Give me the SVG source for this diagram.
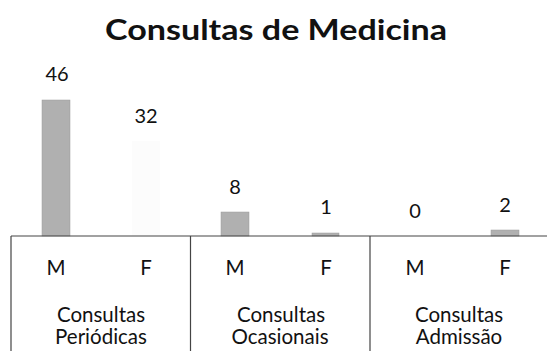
<svg xmlns="http://www.w3.org/2000/svg" width="547" height="351" viewBox="0 0 547 351">
<style>
text{font-family:Lato,"Open Sans","Liberation Sans",sans-serif;fill:#111;text-anchor:middle}
.t{font-size:29px;font-weight:bold}
.v{font-size:20px}
.a{font-size:20.5px}
.bar{fill:#b0b0b0;stroke:#9a9a9a;stroke-width:0.5}
.faint{fill:#fcfcfc}
.ln{stroke:#444;stroke-width:1.2;fill:none}
</style>
<rect width="547" height="351" fill="#fff"/>
<text class="t" x="276" y="40" textLength="342" lengthAdjust="spacingAndGlyphs">Consultas de Medicina</text>
<g id="bar-periodicas-m"><rect class="bar" x="42" y="100" width="28" height="136"/><text class="v" x="57" y="81">46</text></g>
<g id="bar-periodicas-f"><rect class="faint" x="132" y="141" width="28" height="95"/><text class="v" x="146" y="123">32</text></g>
<g id="bar-ocasionais-m"><rect class="bar" x="221" y="212" width="28" height="24"/><text class="v" x="235" y="194">8</text></g>
<g id="bar-ocasionais-f"><rect class="bar" x="312" y="233" width="27" height="3"/><text class="v" x="326" y="214">1</text></g>
<g id="bar-admissao-m"><text class="v" x="415" y="218">0</text></g>
<g id="bar-admissao-f"><rect class="bar" x="491" y="230" width="28" height="6"/><text class="v" x="505" y="212">2</text></g>
<g id="axis">
<line class="ln" x1="11" y1="236" x2="547" y2="236"/>
<line class="ln" x1="11" y1="236" x2="11" y2="351"/>
<line class="ln" x1="190.5" y1="236" x2="190.5" y2="351"/>
<line class="ln" x1="370" y1="236" x2="370" y2="351"/>
</g>
<g id="cat-periodicas"><text class="a" x="56" y="275">M</text><text class="a" x="146" y="275">F</text><text class="a" x="101" y="322">Consultas</text><text class="a" x="101" y="344">Periódicas</text></g>
<g id="cat-ocasionais"><text class="a" x="235" y="275">M</text><text class="a" x="326" y="275">F</text><text class="a" x="281" y="322">Consultas</text><text class="a" x="280" y="344">Ocasionais</text></g>
<g id="cat-admissao"><text class="a" x="415" y="275">M</text><text class="a" x="505" y="275">F</text><text class="a" x="459" y="322">Consultas</text><text class="a" x="459" y="344">Admissão</text></g>
</svg>
